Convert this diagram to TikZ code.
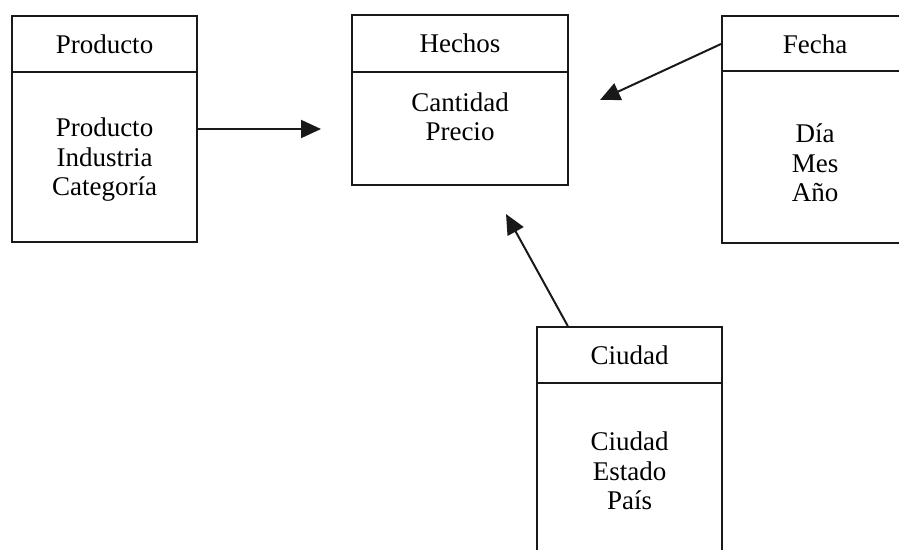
\documentclass[tikz,border=0pt]{standalone}
\usepackage{fontspec}
\setmainfont{Liberation Serif}
\usetikzlibrary{arrows.meta,calc}
\begin{document}
\begin{tikzpicture}[x=1pt,y=-1pt,
  box/.style={draw=black!90, line width=2pt, rectangle, inner sep=0pt},
  txt/.style={font=\fontsize{27}{29.5}\selectfont, align=center, inner sep=0pt, text=black},
  conn/.style={draw=black!90, line width=2pt, -{Triangle[length=20pt,width=18pt]}}]
\useasboundingbox (0,0) rectangle (899,549);
\clip (0,0) rectangle (899,549);
% Producto
\node[box, minimum width=185pt, minimum height=226pt] (prod) at (104.5,129) {};
\draw[box] (prod.west |- 0,72) -- (prod.east |- 0,72);
\node[txt] (prodh) at (104.5,44) {Producto};
\node[txt] (prodb) at (104.5,160) {Producto\\Industria\\Categoría};
% Hechos
\node[box, minimum width=216pt, minimum height=170pt] (hech) at (460,100) {};
\draw[box] (hech.west |- 0,72) -- (hech.east |- 0,72);
\node[txt] (hechh) at (460,43) {Hechos};
\node[txt] (hechb) at (460,117) {Cantidad\\Precio};
% Fecha
\node[box, minimum width=186pt, minimum height=227pt] (fech) at (815,129.5) {};
\draw[box] (fech.west |- 0,71) -- (fech.east |- 0,71);
\node[txt] (fechh) at (815,44) {Fecha};
\node[txt] (fechb) at (815,163) {Día\\Mes\\Año};
% Ciudad
\node[box, minimum width=185pt, minimum height=240pt] (ciud) at (629.5,447) {};
\draw[box] (ciud.west |- 0,383) -- (ciud.east |- 0,383);
\node[txt] (ciudh) at (629.5,355) {Ciudad};
\node[txt] (ciudb) at (629.5,471) {Ciudad\\Estado\\País};
% arrow ends
\coordinate (tp) at (321,129);
\coordinate (tf) at (600,100);
\coordinate (tc) at (506,214);
\draw[conn] (prod.east) -- (tp);
\draw[conn] (fech.west |- fechh) -- (tf);
\draw[conn] ($(ciud.north west)!0.17!(ciud.north east)$) -- (tc);
\end{tikzpicture}
\end{document}
